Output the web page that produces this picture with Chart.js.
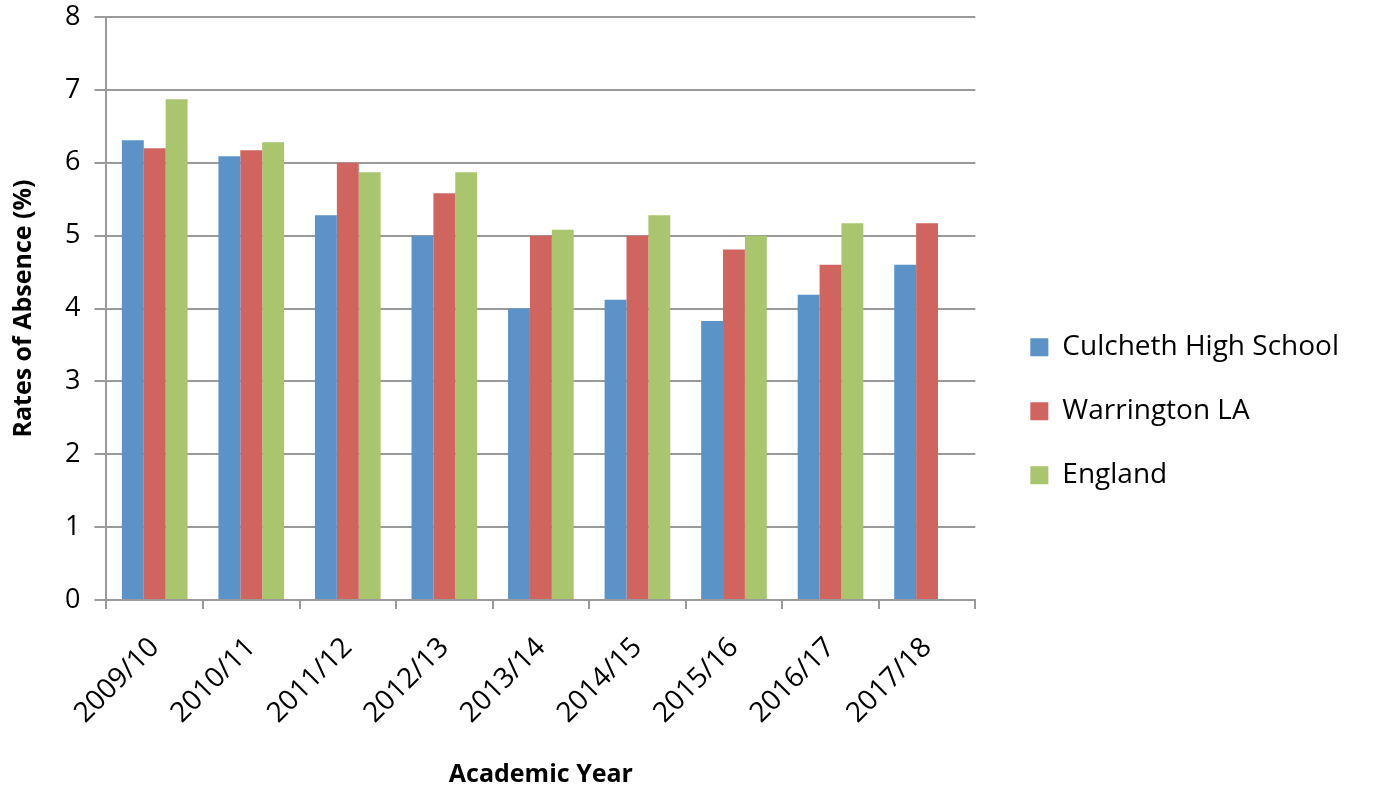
<!DOCTYPE html>
<html lang="en">
<head>
    <meta charset="UTF-8">
    <title>Rates of Absence</title>
    <script src="https://cdn.jsdelivr.net/npm/chart.js"></script>
    <style>
        html, body { margin: 0; padding: 0; background: #fff; }
        #wrap { width: 1389px; height: 796px; }
    </style>
</head>
<body>
    <div id="wrap"><canvas id="absenceChart"></canvas></div>

    <script>
        // values
        const years = ["2009/10", "2010/11", "2011/12", "2012/13", "2013/14", "2014/15", "2015/16", "2016/17", "2017/18"];
        const culcheth = [6.31, 6.09, 5.28, 5.0, 4.0, 4.12, 3.83, 4.19, 4.6];
        const warrington = [6.2, 6.17, 6.0, 5.58, 5.0, 5.0, 4.81, 4.6, 5.17];
        const england = [6.87, 6.28, 5.87, 5.87, 5.08, 5.28, 5.0, 5.17, null];
        const yTicks = [0, 1, 2, 3, 4, 5, 6, 7, 8];

        const font = "Open Sans, Liberation Sans, sans-serif";
        const gridGrey = "#9a9a9a";

        new Chart(document.getElementById("absenceChart"), {
            type: "bar",
            data: {
                labels: years,
                datasets: [
                    { label: "Culcheth High School", data: culcheth, backgroundColor: "#5b92c8" },
                    { label: "Warrington LA", data: warrington, backgroundColor: "#d0655f" },
                    { label: "England", data: england, backgroundColor: "#a9c56e" }
                ]
            },
            options: {
                responsive: true,
                maintainAspectRatio: false,
                animation: false,
                layout: { padding: { top: 0, right: 40, left: 5, bottom: 2 } },
                datasets: { bar: { categoryPercentage: 0.68, barPercentage: 1.0 } },
                plugins: {
                    tooltip: { enabled: false },
                    legend: {
                        position: "right",
                        align: "center",
                        maxWidth: 420,
                        // blank title only nudges the items down a little
                        title: { display: true, text: " ", padding: 7, font: { size: 12 } },
                        labels: {
                            font: { family: font, size: 28 },
                            color: "#000",
                            boxWidth: 18,
                            boxHeight: 18,
                            padding: 36
                        }
                    }
                },
                scales: {
                    x: {
                        grid: { display: true, drawOnChartArea: false, color: gridGrey, lineWidth: 2, tickLength: 9, offset: true },
                        border: { color: gridGrey, width: 2 },
                        ticks: {
                            font: { family: font, size: 28 },
                            color: "#000",
                            maxRotation: 45,
                            minRotation: 45,
                            padding: 22
                        },
                        title: {
                            display: true,
                            text: "Academic Year",
                            font: { family: font, size: 25, weight: "bold" },
                            color: "#000",
                            padding: { top: 8 }
                        }
                    },
                    y: {
                        min: 0,
                        max: 8,
                        afterBuildTicks: axis => { axis.ticks = yTicks.map(v => ({ value: v })); },
                        afterFit: axis => { axis.paddingTop = 17; },
                        grid: { color: gridGrey, lineWidth: 2, tickLength: 12 },
                        border: { color: gridGrey, width: 2 },
                        ticks: {
                            font: { family: font, size: 27 },
                            color: "#000",
                            padding: 14
                        },
                        title: {
                            display: true,
                            text: "Rates of Absence (%)",
                            font: { family: font, size: 25, weight: "bold" },
                            color: "#000",
                            padding: { bottom: 12 }
                        }
                    },
                    // empty strip between the plot and the legend
                    gap: {
                        type: "linear",
                        position: "right",
                        display: true,
                        grid: { display: false },
                        border: { display: false },
                        ticks: { display: false },
                        afterFit: axis => { axis.width = 19; }
                    }
                }
            }
        });
    </script>
</body>
</html>
